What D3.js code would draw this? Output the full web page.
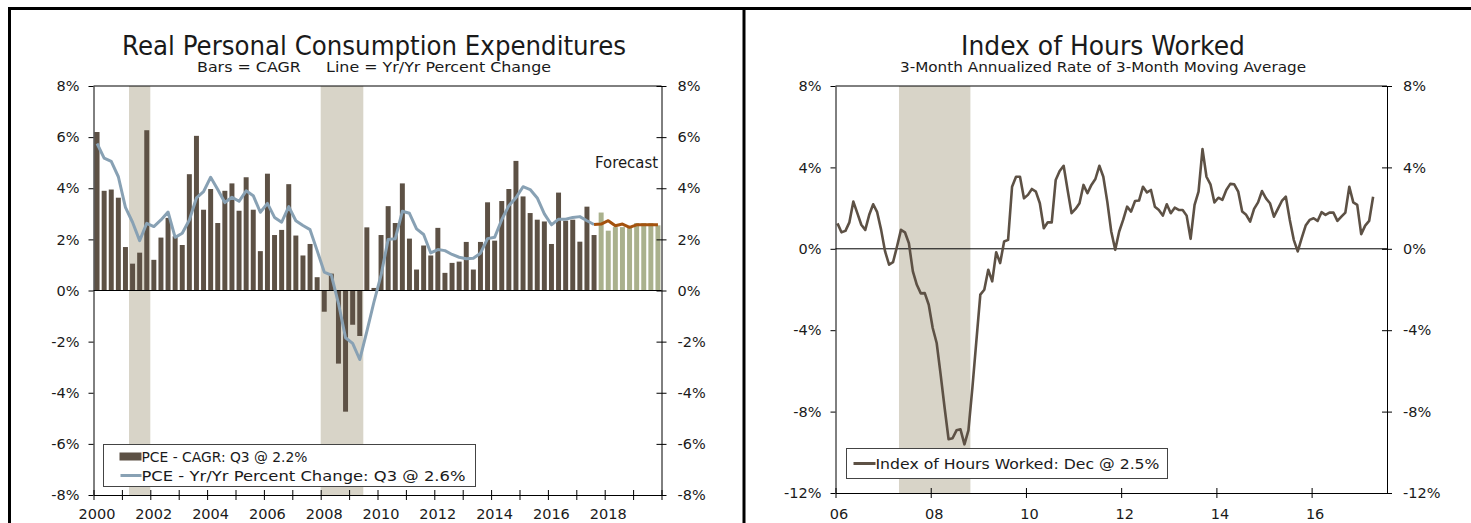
<!DOCTYPE html>
<html>
<head>
<meta charset="utf-8">
<script src="https://cdn.jsdelivr.net/npm/d3@7"></script>
<style>
body { margin: 0; background: #fff; }
svg text { font-family: "DejaVu Sans", Verdana, sans-serif; fill: #1a1a1a; }
</style>
</head>
<body>
<svg id="chart" width="1471" height="523"></svg>
<script>
// ---- left panel: Real PCE, quarterly 2000Q1 - 2019Q4 ----
var quarterYears = d3.range(2000, 2020);
var pceCagr = [6.2, 3.9, 3.95, 3.63, 1.7, 1.05, 1.48, 6.27,
  1.2, 2.07, 2.84, 2.12, 1.78, 4.55, 6.05, 3.16,
  3.97, 2.64, 3.9, 4.19, 3.12, 4.43, 3.16, 1.54,
  4.57, 2.17, 2.37, 4.16, 2.15, 1.37, 1.82, 0.52,
  -0.83, 0.66, -2.86, -4.74, -1.34, -1.78, 2.47, 0.1,
  2.17, 3.3, 2.64, 4.19, 2.03, 0.82, 1.76, 1.37,
  2.45, 0.69, 1.08, 1.13, 1.9, 0.82, 1.9, 3.45,
  1.95, 3.5, 3.97, 5.07, 3.68, 3.03, 2.77, 2.7,
  1.82, 3.83, 2.73, 2.77, 1.91, 3.28, 2.17];
var pceCagrForecast = [3.05, 2.34, 2.48, 2.48, 2.5, 2.64, 2.64, 2.64, 2.55];
var pceYoy = [5.75, 5.18, 5.05, 4.45, 3.25, 2.67, 1.95, 2.63,
  2.5, 2.76, 3.07, 2.08, 2.24, 2.76, 3.62, 3.87,
  4.43, 3.95, 3.44, 3.65, 3.49, 3.9, 3.71, 3.06,
  3.41, 2.86, 2.67, 3.28, 2.73, 2.54, 2.38, 1.56,
  0.72, 0.6, -0.5, -1.85, -2.07, -2.7, -1.6, -0.45,
  0.6, 2.0, 2.02, 3.1, 3.02, 2.41, 2.19, 1.47,
  1.6, 1.56, 1.41, 1.3, 1.24, 1.26, 1.46, 2.03,
  2.08, 2.77, 3.32, 3.63, 4.06, 3.95, 3.62, 3.0,
  2.57, 2.79, 2.79, 2.86, 2.89, 2.73, 2.58];
var pceYoyForecast = [2.6, 2.73, 2.53, 2.6, 2.47, 2.57, 2.57, 2.57, 2.57];
var pceRecessions = [["2001Q2", "2001Q4"], ["2008Q1", "2009Q2"]];
var pceYearTicks = d3.range(2000, 2021);
var pceYTicks = [-8, -6, -4, -2, 0, 2, 4, 6, 8];

// ---- right panel: index of hours worked, monthly Sep 2006 - Dec 2017 ----
var hoursStart = new Date(2006, 8, 1);
var hours = [1.25, 0.81, 0.88, 1.3, 2.32, 1.75, 1.18, 0.93, 1.67, 2.19,
  1.8, 0.93, -0.13, -0.78, -0.66, 0.11, 0.93, 0.81, 0.27, -1.11,
  -1.77, -2.19, -2.18, -2.75, -3.89, -4.63, -6.18, -7.81, -9.36, -9.31,
  -8.92, -8.87, -9.61, -8.92, -6.83, -4.54, -2.25, -2.01, -1.03, -1.6,
  -0.17, -0.7, 0.36, 0.44, 3.05, 3.54, 3.54, 2.48, 2.65, 2.94,
  2.81, 2.24, 1.01, 1.3, 1.3, 3.38, 3.82, 4.08, 2.89, 1.75,
  1.96, 2.24, 3.14, 2.73, 3.14, 3.43, 4.08, 3.54, 2.32, 0.85,
  -0.05, 0.85, 1.42, 2.07, 1.83, 2.35, 2.37, 3.05, 2.77, 2.89,
  2.07, 1.91, 1.63, 2.19, 1.75, 2.02, 1.91, 1.91, 1.63, 0.49,
  2.16, 2.81, 4.9, 3.54, 3.17, 2.28, 2.51, 2.4, 2.89, 3.19,
  3.17, 2.81, 1.83, 1.67, 1.34, 1.96, 2.28, 2.84, 2.48, 2.24,
  1.58, 1.96, 2.35, 2.56, 1.42, 0.44, -0.13, 0.52, 1.14, 1.42,
  1.5, 1.37, 1.8, 1.67, 1.78, 1.78, 1.37, 1.58, 1.78, 3.05,
  2.28, 2.16, 0.72, 1.14, 1.37, 2.56];
var hoursRecession = ["2008-01", "2009-06"];
var hoursTickLabels = ["06", "08", "10", "12", "14", "16"];
var hoursYTicks = [-12, -8, -4, 0, 4, 8];

var brown = "#5d5145", blue = "#88a1b4", green = "#aab18d", orange = "#a4520e", shade = "#d8d4c8";

var svg = d3.select("#chart");

// frame
svg.append("path")
  .attr("d", "M9.5,530V8.5H1471M744,8.5V530")
  .attr("fill", "none").attr("stroke", "#000").attr("stroke-width", 3);

function title(cx, text, len, sub, subLen) {
  svg.append("text").attr("x", cx).attr("y", 55).attr("text-anchor", "middle")
    .attr("font-size", 26).attr("textLength", len).attr("lengthAdjust", "spacingAndGlyphs")
    .text(text);
  svg.append("text").attr("x", cx).attr("y", 72).attr("text-anchor", "middle")
    .attr("font-size", 14).attr("textLength", subLen).attr("lengthAdjust", "spacingAndGlyphs")
    .style("white-space", "pre").text(sub);
}

function label(g, x, y, text, len, size) {
  return g.append("text").attr("x", x).attr("y", y).attr("font-size", size || 15)
    .attr("textLength", len).attr("lengthAdjust", "spacingAndGlyphs").text(text);
}

// ================= left chart =================
var quarters = [];
quarterYears.forEach(function(y) { [1, 2, 3, 4].forEach(function(q) { quarters.push(y + "Q" + q); }); });
var L = {left: 93.5, right: 661.5, top: 86, bottom: 495};

var xq = d3.scaleBand().domain(quarters).range([L.left, L.right]).paddingInner(0.3).paddingOuter(0.15);
var xYear = d3.scaleLinear().domain([2000, 2020]).range([L.left, L.right]);
var yL = d3.scaleLinear().domain([-8, 8]).range([L.bottom, L.top]);
var step = xq.step();

title(374, "Real Personal Consumption Expenditures", 504, "Bars = CAGR     Line = Yr/Yr Percent Change", 354);

var gL = svg.append("g");
gL.selectAll("rect.rec").data(pceRecessions).enter().append("rect")
  .attr("x", function(d) { return xq(d[0]) - step * xq.paddingInner() / 2; })
  .attr("width", function(d) { return xq(d[1]) - xq(d[0]) + step; })
  .attr("y", L.top).attr("height", L.bottom - L.top).attr("fill", shade);

var actual = pceCagr.map(function(v, i) { return {q: quarters[i], v: v}; });
var fc = pceCagrForecast.map(function(v, i) { return {q: quarters[pceCagr.length + i], v: v}; });

gL.selectAll("rect.bar").data(actual.concat(fc)).enter().append("rect")
  .attr("x", function(d) { return xq(d.q); })
  .attr("width", xq.bandwidth())
  .attr("y", function(d) { return yL(Math.max(0, d.v)); })
  .attr("height", function(d) { return Math.abs(yL(d.v) - yL(0)); })
  .attr("fill", function(d, i) { return i < pceCagr.length ? brown : green; });

// top border + zero line
gL.append("line").attr("x1", L.left).attr("x2", L.right).attr("y1", L.top).attr("y2", L.top).attr("stroke", "#000");
gL.append("line").attr("x1", L.left).attr("x2", L.right).attr("y1", yL(0)).attr("y2", yL(0)).attr("stroke", "#000");

var lineL = d3.line()
  .x(function(d) { return xq(d.q) + xq.bandwidth() / 2; })
  .y(function(d) { return yL(d.v); });
var yoyPts = pceYoy.map(function(v, i) { return {q: quarters[i], v: v}; });
var yoyFc = [yoyPts[yoyPts.length - 1]].concat(pceYoyForecast.map(function(v, i) { return {q: quarters[pceYoy.length + i], v: v}; }));
gL.append("path").datum(yoyPts).attr("d", lineL).attr("fill", "none")
  .attr("stroke", blue).attr("stroke-width", 3).attr("stroke-linejoin", "round");
gL.append("path").datum(yoyFc).attr("d", lineL).attr("fill", "none")
  .attr("stroke", orange).attr("stroke-width", 3).attr("stroke-linejoin", "round");

label(gL, 595, 168, "Forecast", 63);

function styleAxis(g) {
  g.select(".domain").attr("stroke", "#000");
  g.selectAll(".tick line").attr("stroke", "#000");
  g.selectAll(".tick text").attr("font-size", 14.5).attr("fill", "#1a1a1a").attr("font-family", null);
}

gL.append("g").attr("transform", "translate(" + L.left + ",0)")
  .call(d3.axisLeft(yL).tickValues(pceYTicks).tickFormat(function(d) { return d + "%"; }).tickSize(5).tickSizeOuter(0).tickPadding(9))
  .call(styleAxis);
gL.append("g").attr("transform", "translate(" + L.right + ",0)")
  .call(d3.axisRight(yL).tickValues(pceYTicks).tickFormat(function(d) { return d + "%"; }).tickSize(5).tickSizeOuter(0).tickPadding(11))
  .call(styleAxis)
  .call(function(g) { g.selectAll(".tick line").attr("x1", -5); });
gL.append("g").attr("transform", "translate(0," + L.bottom + ")")
  .call(d3.axisBottom(xYear).tickValues(pceYearTicks).tickSize(5).tickSizeOuter(0).tickPadding(9)
    .tickFormat(function(d) { return d % 2 === 0 && d < 2020 ? d : ""; }))
  .call(styleAxis)
  .call(function(g) {
    g.selectAll(".tick line").attr("y1", -5);
    g.selectAll(".tick text").attr("dx", 3);
  });

// legend
var lgL = gL.append("g").attr("transform", "translate(103.5,444.5)");
lgL.append("rect").attr("width", 372).attr("height", 42).attr("fill", "#fff").attr("stroke", "#444");
lgL.append("rect").attr("x", 16).attr("y", 8).attr("width", 22).attr("height", 8).attr("fill", brown);
label(lgL, 38, 17, "PCE - CAGR: Q3 @ 2.2%", 166, 14);
lgL.append("line").attr("x1", 17).attr("x2", 38).attr("y1", 31).attr("y2", 31).attr("stroke", blue).attr("stroke-width", 3);
label(lgL, 38, 36, "PCE - Yr/Yr Percent Change: Q3 @ 2.6%", 324, 14.5);

// ================= right chart =================
var R = {left: 835.5, right: 1387, top: 86, bottom: 493};
var fmtMonth = d3.timeFormat("%Y-%m");
var months = hours.map(function(v, i) { return fmtMonth(d3.timeMonth.offset(hoursStart, i)); });
var xh = d3.scaleLinear().domain([-0.5, 138.5]).range([R.left, R.right]);
var yR = d3.scaleLinear().domain([-12, 8]).range([R.bottom, R.top]);

title(1103, "Index of Hours Worked", 284, "3-Month Annualized Rate of 3-Month Moving Average", 406);

var gR = svg.append("g");
var r0 = months.indexOf(hoursRecession[0]), r1 = months.indexOf(hoursRecession[1]);
gR.append("rect").attr("x", xh(r0 - 0.5)).attr("width", xh(r1 + 0.5) - xh(r0 - 0.5))
  .attr("y", R.top).attr("height", R.bottom - R.top).attr("fill", shade);

gR.append("line").attr("x1", R.left).attr("x2", R.right).attr("y1", R.top).attr("y2", R.top).attr("stroke", "#000");
gR.append("line").attr("x1", R.left).attr("x2", R.right).attr("y1", yR(0)).attr("y2", yR(0)).attr("stroke", "#000");

gR.append("path").datum(hours)
  .attr("d", d3.line().x(function(d, i) { return xh(i); }).y(function(d) { return yR(d); }))
  .attr("fill", "none").attr("stroke", brown).attr("stroke-width", 2.6).attr("stroke-linejoin", "round");

gR.append("g").attr("transform", "translate(" + R.left + ",0)")
  .call(d3.axisLeft(yR).tickValues(hoursYTicks).tickFormat(function(d) { return d + "%"; }).tickSize(5).tickSizeOuter(0).tickPadding(9))
  .call(styleAxis);
gR.append("g").attr("transform", "translate(" + R.right + ",0)")
  .call(d3.axisRight(yR).tickValues(hoursYTicks).tickFormat(function(d) { return d + "%"; }).tickSize(5).tickSizeOuter(0).tickPadding(11))
  .call(styleAxis)
  .call(function(g) { g.selectAll(".tick line").attr("x1", -5); });
gR.append("g").attr("transform", "translate(0," + R.bottom + ")")
  .call(d3.axisBottom(xh).tickValues(hoursTickLabels.map(function(d, k) { return k * 24 - 0.5; }))
    .tickFormat(function(d, k) { return hoursTickLabels[k]; }).tickSize(5).tickSizeOuter(0).tickPadding(11))
  .call(styleAxis)
  .call(function(g) {
    g.selectAll(".tick line").attr("y1", -5);
    g.selectAll(".tick text").attr("dx", 3);
  });

var lgR = gR.append("g").attr("transform", "translate(846.5,448.5)");
lgR.append("rect").attr("width", 321).attr("height", 30).attr("fill", "#fff").attr("stroke", "#444");
lgR.append("line").attr("x1", 7).attr("x2", 29).attr("y1", 15).attr("y2", 15).attr("stroke", brown).attr("stroke-width", 3);
label(lgR, 29, 20, "Index of Hours Worked: Dec @ 2.5%", 284, 14.5);
</script>
</body>
</html>
